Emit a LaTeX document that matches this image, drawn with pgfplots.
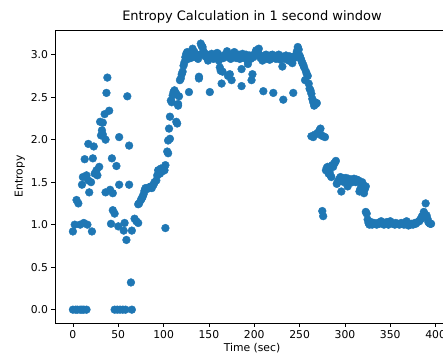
\documentclass[border=0pt]{standalone}
\usepackage{fontspec}
\setmainfont{DejaVu Sans}
\usepackage{pgfplots}
\pgfplotsset{compat=1.18}
\definecolor{tabblue}{HTML}{1F77B4}
\begin{document}
\begin{tikzpicture}
\begin{axis}[
  scale only axis, width=394pt, height=293pt,
  xmin=-19.75, xmax=414.75, ymin=-0.157, ymax=3.29,
  xtick={0,50,...,400}, ytick={0,0.5,1,1.5,2,2.5,3},
  /pgf/number format/assume math mode=true,
  yticklabel style={/pgf/number format/.cd, fixed, fixed zerofill, precision=1},
  xticklabel style={/pgf/number format/.cd, fixed, precision=0},
  tick align=outside, tick pos=left, major tick length=3.5pt,
  axis line style={line width=0.8pt},
  every tick/.style={black, line width=0.8pt},
  ticklabel style={font=\fontsize{10.8}{13}\selectfont},
  label style={font=\fontsize{10.8}{13}\selectfont},
  title style={font=\fontsize{13}{15}\selectfont, yshift=-3pt},
  title={Entropy Calculation in 1 second window},
  xlabel={Time (sec)}, ylabel={Entropy},
  xlabel style={yshift=2pt},
  ylabel style={yshift=-1pt},
  clip=true,
]
\coordinate (SW) at (rel axis cs:0,0);
\addplot[only marks, mark=*, mark size=3.9pt, color=tabblue, mark options={draw=tabblue, fill=tabblue}] table {
x y
0 0
3 0
5 0
8 0
10 0
12 0
15 0
0 0.92
2 1.0
4 1.29
6 1.25
8 1.0
10 1.47
11 1.56
12 1.02
13 1.77
15 1.58
16 1.0
17 1.95
17 1.52
18 1.38
20 1.50
21 0.92
22 1.78
23 1.92
24 1.60
26 1.64
27 1.58
29 1.68
30 2.21
31 2.05
32 2.11
33 2.20
33 2.06
35 2.30
36 2.00
36 1.38
37 2.55
38 2.73
40 2.34
41 1.41
42 1.01
43 1.78
44 1.37
44 1.17
46 1.13
46 0
48 1.69
49 0
50 0.98
51 2.03
51 1.47
52 0
55 0
56 0.93
57 1.02
58 0
59 0.82
60 2.51
62 1.93
62 1.47
64 0.32
65 0
65 0.93
68 1.07
70 1.04
72 1.02
72 1.24
73 1.25
75 1.29
76 1.31
77 1.33
78 1.36
79 1.40
80 1.43
82 1.42
84 1.44
86 1.45
87 1.43
89 1.47
90 1.50
92 1.52
93 1.58
94 1.64
95 1.62
96 1.60
97 1.66
99 1.63
100 1.66
101 1.64
102 1.70
102 0.96
104 1.86
105 1.84
105 1.99
106 2.13
107 2.27
107 2.01
108 2.46
109 2.44
110 2.52
111 2.56
112 2.58
113 2.55
114 2.54
114 2.21
115 2.19
116 2.42
116 2.40
117 2.51
118 2.70
119 2.72
120 2.77
121 2.80
122 2.87
123 2.91
124 2.97
125 3.01
126 3.03
127 2.95
128 2.56
128 3.00
129 2.98
130 2.96
131 2.99
132 3.07
133 3.02
134 3.03
135 2.97
136 3.00
137 2.98
138 2.95
139 2.74
139 2.72
140 3.00
141 3.13
142 3.10
143 3.09
144 3.04
145 3.02
146 2.98
147 3.00
148 2.96
149 2.93
150 2.99
151 2.56
152 2.97
153 3.01
154 2.98
155 2.95
156 2.97
157 3.00
158 2.99
159 3.02
160 3.01
161 2.93
162 2.85
163 2.81
164 2.66
165 2.80
166 2.96
167 2.99
168 3.00
169 2.99
170 3.04
171 2.75
172 2.97
173 2.77
174 2.95
175 2.70
176 2.98
177 3.00
178 3.03
179 2.98
180 2.96
181 2.99
182 2.97
183 3.00
184 2.95
185 2.97
186 2.63
186 2.83
187 3.01
188 2.98
189 2.96
190 2.99
191 3.00
192 2.94
193 2.89
194 2.97
195 2.99
196 2.95
197 2.70
198 2.77
199 2.97
200 3.00
201 3.02
202 3.05
203 3.00
204 3.04
205 3.07
206 2.99
207 2.96
208 2.98
209 2.93
210 2.57
211 2.97
212 2.99
213 3.00
214 2.95
215 2.96
216 2.98
217 2.94
218 2.99
219 2.97
220 3.00
221 2.55
222 2.96
223 2.98
224 2.95
225 2.97
226 2.99
227 3.00
228 2.96
229 2.94
230 2.98
231 2.86
232 2.47
233 2.97
234 2.95
235 2.99
236 2.97
237 2.96
238 2.93
239 2.98
240 2.95
241 2.97
242 2.90
243 2.55
244 2.96
245 2.98
246 3.00
247 3.04
248 3.09
249 3.06
250 2.99
251 2.96
252 2.93
253 2.90
254 2.88
255 2.85
256 2.70
257 2.80
258 2.77
259 2.75
260 2.66
261 2.60
262 2.58
263 2.54
264 2.48
265 2.44
266 2.40
267 2.44
268 2.42
269 2.43
263 2.04
265 2.03
267 2.06
270 2.08
272 2.11
273 2.13
274 2.05
276 2.04
278 2.03
275 1.16
276 1.10
279 1.64
280 1.67
281 1.68
282 1.60
283 1.62
284 1.58
285 1.56
286 1.70
287 1.68
288 1.72
289 1.73
290 1.75
291 1.48
292 1.50
293 1.52
294 1.54
295 1.56
296 1.39
297 1.55
298 1.52
299 1.50
300 1.53
301 1.55
302 1.50
303 1.45
304 1.54
305 1.52
306 1.51
307 1.53
308 1.50
309 1.53
310 1.54
311 1.52
312 1.50
313 1.53
314 1.51
315 1.52
316 1.39
317 1.42
318 1.48
319 1.50
320 1.47
321 1.37
322 1.42
323 1.45
323 1.15
324 1.13
325 1.06
326 1.02
327 1.00
328 1.01
329 1.03
330 1.00
332 1.02
333 1.01
335 1.00
336 1.02
338 1.01
340 1.04
341 1.02
343 1.00
345 1.01
346 1.03
348 1.00
350 1.04
351 1.02
353 1.01
355 1.00
356 1.02
358 1.01
360 1.00
362 1.02
363 1.01
365 1.00
367 1.03
368 1.04
370 0.99
372 1.00
373 1.01
375 1.00
377 1.02
378 1.01
380 1.03
382 1.04
383 1.06
384 1.07
385 1.10
386 1.09
387 1.15
388 1.12
389 1.25
390 1.11
391 1.07
392 1.03
393 1.02
394 1.01
395 1.01
};
\end{axis}
\pgfresetboundingbox
\path[use as bounding box] ([shift={(-55pt,-33pt)}]SW) rectangle ([shift={(388pt,323pt)}]SW);
\end{tikzpicture}
\end{document}
